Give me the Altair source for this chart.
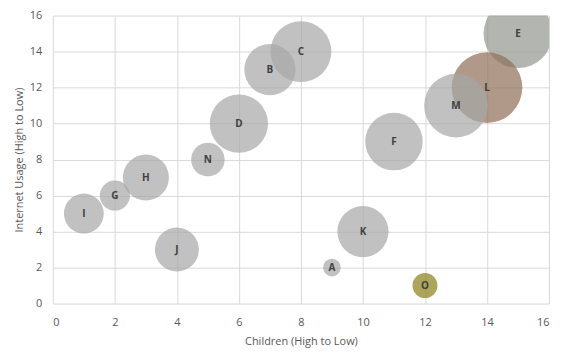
import altair as alt
import pandas as pd

labels = ["A", "B", "C", "D", "E", "F", "G", "H", "I", "J", "K", "L", "M", "N", "O"]
children = [9, 7, 8, 6, 15, 11, 2, 3, 1, 4, 10, 14, 13, 5, 12]
internet = [2, 13, 14, 10, 15, 9, 6, 7, 5, 3, 4, 12, 11, 8, 1]
bubble = [1.0, 8.4, 11.9, 10.9, 15.2, 10.6, 2.9, 6.8, 5.1, 6.2, 8.4, 16.0, 13.0, 3.6, 2.0]
colors = ["#a6a6a6"] * 15
colors[labels.index("L")] = "#8e6e55"
colors[labels.index("E")] = "#939690"
colors[labels.index("O")] = "#8c7f18"

df = pd.DataFrame({"label": labels, "x": children, "y": internet,
                   "size": bubble, "color": colors})

xs = alt.Scale(domain=[0, 16], nice=False)
ys = alt.Scale(domain=[0, 16], nice=False)

base = alt.Chart(df).encode(
    x=alt.X("x:Q", scale=xs, title="Children (High to Low)",
            axis=alt.Axis(values=list(range(0, 17, 2)), tickSize=0, domain=False,
                          labelPadding=13, titlePadding=8)),
    y=alt.Y("y:Q", scale=ys, title="Internet Usage (High to Low)",
            axis=alt.Axis(values=list(range(0, 17, 2)), tickSize=0, domain=False,
                          labelPadding=11, titlePadding=5)),
)

points = base.mark_circle(opacity=0.7, clip=True).encode(
    size=alt.Size("size:Q", scale=alt.Scale(domain=[0, 16], range=[0, 5027]), legend=None),
    color=alt.Color("color:N", scale=None),
)

text = base.mark_text(fontSize=10, fontWeight="bold", color="#404040", font="Open Sans").encode(
    text="label:N"
)

chart = (points + text).properties(
    width=498, height=289,
    autosize=alt.AutoSizeParams(type="none"),
    padding={"left": 45, "top": 7, "right": 5, "bottom": 49},
).configure_view(stroke=None).configure_axis(
    gridColor="#d9d9d9", labelColor="#595959", titleColor="#595959",
    labelFont="Open Sans", titleFont="Open Sans", labelFontSize=11,
    titleFontSize=11, titleFontWeight="normal",
)

chart.save("out.html", embed_options={"renderer": "svg", "actions": False})
